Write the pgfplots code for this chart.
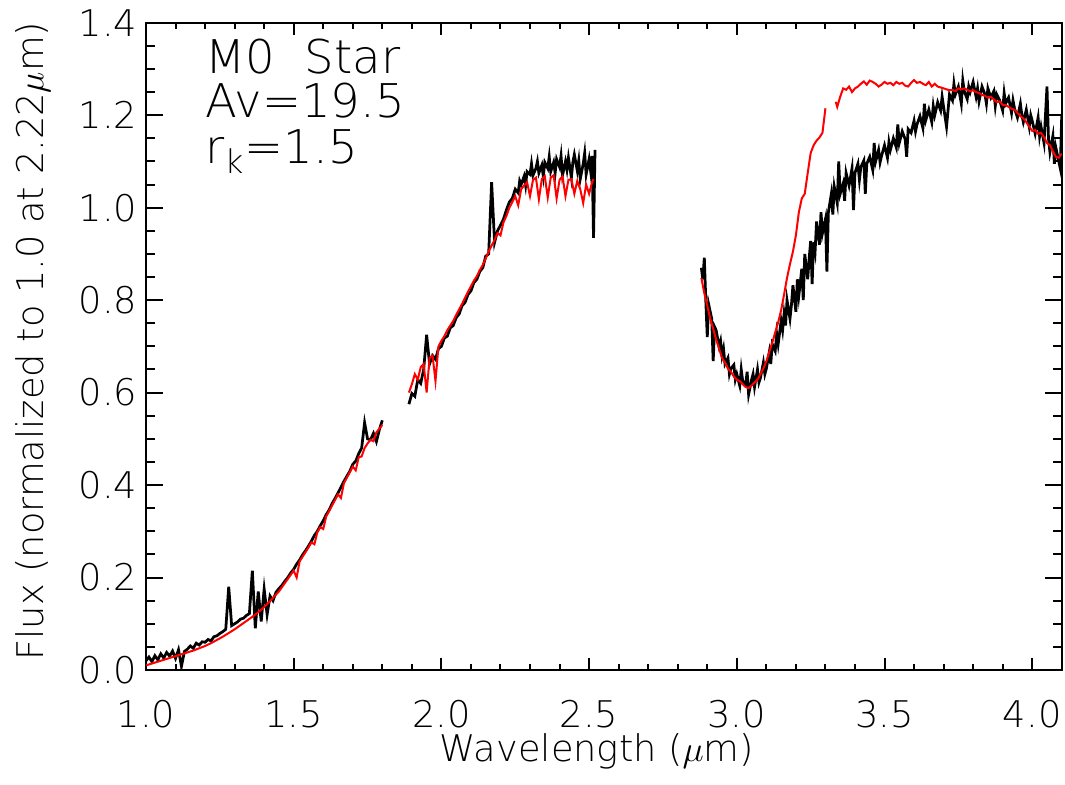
\documentclass[border=0pt]{standalone}
\usepackage{fontspec}
\setmainfont{DejaVu Sans}[UprightFont={* ExtraLight}]
\usepackage{pgfplots}
\pgfplotsset{compat=1.18}

% observed spectrum (black), three wavelength windows
\pgfplotstableread{
x y
1.00 0.020
1.01 0.028
1.02 0.018
1.03 0.031
1.04 0.022
1.05 0.035
1.06 0.026
1.07 0.038
1.08 0.030
1.09 0.041
1.10 0.025
1.11 0.044
1.12 0.008
1.13 0.040
1.14 0.045
1.15 0.052
1.16 0.047
1.17 0.058
1.18 0.054
1.19 0.061
1.20 0.060
1.21 0.066
1.22 0.063
1.23 0.072
1.24 0.074
1.25 0.079
1.26 0.083
1.27 0.088
1.28 0.180
1.29 0.096
1.30 0.100
1.31 0.104
1.32 0.110
1.33 0.112
1.34 0.118
1.35 0.122
1.36 0.215
1.37 0.090
1.38 0.170
1.39 0.105
1.40 0.175
1.41 0.120
1.42 0.160
1.43 0.150
1.44 0.168
1.45 0.176
1.46 0.183
1.47 0.192
1.48 0.200
1.49 0.210
1.50 0.218
1.51 0.229
1.52 0.238
1.53 0.249
1.54 0.258
1.55 0.268
1.56 0.279
1.57 0.291
1.58 0.300
1.59 0.312
1.60 0.323
1.61 0.336
1.62 0.346
1.63 0.360
1.64 0.371
1.65 0.383
1.66 0.395
1.67 0.408
1.68 0.419
1.69 0.430
1.70 0.445
1.71 0.452
1.72 0.468
1.73 0.480
1.74 0.535
1.75 0.500
1.76 0.498
1.77 0.512
1.78 0.494
1.79 0.520
1.80 0.540
}\obsA

\pgfplotstableread{
x y
1.89 0.575
1.90 0.598
1.91 0.592
1.92 0.628
1.93 0.620
1.94 0.650
1.95 0.725
1.96 0.662
1.97 0.680
1.98 0.672
1.99 0.695
2.00 0.700
2.01 0.718
2.02 0.722
2.03 0.740
2.04 0.745
2.05 0.762
2.06 0.770
2.07 0.788
2.08 0.795
2.09 0.812
2.10 0.820
2.11 0.838
2.12 0.845
2.13 0.862
2.14 0.870
2.15 0.895
2.16 0.900
2.17 1.055
2.18 0.925
2.19 0.950
2.20 0.962
2.21 0.975
2.22 0.995
2.23 1.012
2.24 1.020
2.25 1.040
2.26 1.032
2.265 1.058
2.27 1.050
2.28 1.068
2.285 1.048
2.29 1.078
2.30 1.072
2.305 1.095
2.31 1.070
2.32 1.085
2.325 1.100
2.33 1.075
2.34 1.092
2.345 1.068
2.35 1.098
2.36 1.085
2.365 1.110
2.37 1.078
2.38 1.098
2.385 1.075
2.39 1.105
2.40 1.088
2.405 1.112
2.41 1.070
2.42 1.100
2.425 1.082
2.43 1.108
2.44 1.065
2.445 1.098
2.45 1.115
2.46 1.080
2.465 1.102
2.47 1.062
2.48 1.095
2.485 1.118
2.49 1.072
2.50 1.105
2.505 1.080
2.51 1.112
2.515 0.935
2.52 1.125
}\obsB

\pgfplotstableread{
x y
2.88 0.870
2.885 0.845
2.89 0.892
2.895 0.800
2.90 0.720
2.905 0.790
2.91 0.775
2.915 0.760
2.92 0.668
2.925 0.742
2.93 0.735
2.94 0.700
2.945 0.712
2.95 0.680
2.955 0.695
2.96 0.662
2.97 0.675
2.975 0.640
2.98 0.652
2.99 0.660
2.995 0.628
3.00 0.640
3.01 0.615
3.015 0.650
3.02 0.625
3.03 0.618
3.035 0.645
3.04 0.596
3.05 0.628
3.055 0.640
3.06 0.612
3.07 0.650
3.075 0.622
3.08 0.632
3.09 0.665
3.095 0.640
3.10 0.652
3.11 0.688
3.115 0.662
3.12 0.705
3.13 0.690
3.135 0.728
3.14 0.705
3.15 0.755
3.155 0.735
3.16 0.770
3.165 0.745
3.17 0.800
3.18 0.760
3.185 0.790
3.19 0.832
3.20 0.775
3.205 0.845
3.21 0.810
3.22 0.868
3.225 0.800
3.23 0.900
3.24 0.845
3.245 0.890
3.25 0.928
3.255 0.835
3.26 0.925
3.265 0.905
3.27 0.970
3.28 0.920
3.285 0.990
3.29 0.945
3.30 0.975
3.305 0.862
3.31 0.990
3.32 1.030
3.325 0.985
3.33 1.045
3.34 1.010
3.345 1.100
3.35 1.030
3.36 1.052
3.365 1.015
3.37 1.075
3.38 1.048
3.39 1.085
3.395 0.995
3.40 1.075
3.41 1.095
3.415 1.060
3.42 1.088
3.43 1.102
3.435 1.030
3.44 1.095
3.45 1.110
3.46 1.082
3.465 1.140
3.47 1.100
3.48 1.125
3.485 1.098
3.49 1.112
3.50 1.135
3.51 1.108
3.515 1.142
3.52 1.125
3.53 1.150
3.54 1.130
3.545 1.180
3.55 1.140
3.56 1.165
3.57 1.148
3.575 1.110
3.58 1.170
3.59 1.162
3.60 1.188
3.605 1.165
3.61 1.180
3.62 1.198
3.63 1.172
3.635 1.225
3.64 1.190
3.65 1.212
3.66 1.185
3.665 1.220
3.67 1.200
3.68 1.228
3.69 1.210
3.695 1.240
3.70 1.218
3.71 1.175
3.72 1.245
3.73 1.232
3.735 1.268
3.74 1.245
3.75 1.262
3.76 1.225
3.765 1.275
3.77 1.252
3.78 1.235
3.785 1.262
3.79 1.250
3.80 1.272
3.81 1.240
3.815 1.258
3.82 1.230
3.83 1.262
3.84 1.245
3.845 1.225
3.85 1.258
3.86 1.238
3.87 1.252
3.875 1.220
3.88 1.245
3.89 1.232
3.90 1.210
3.905 1.248
3.91 1.225
3.92 1.238
3.93 1.205
3.935 1.232
3.94 1.215
3.95 1.195
3.96 1.225
3.965 1.200
3.97 1.185
3.98 1.212
3.99 1.175
3.995 1.200
4.00 1.188
4.01 1.160
4.02 1.195
4.025 1.155
4.03 1.175
4.04 1.140
4.05 1.262
4.055 1.150
4.06 1.120
4.07 1.155
4.075 1.095
4.08 1.130
4.09 1.100
4.095 1.085
4.10 1.200
}\obsC

% reddened M0 model (red)
\pgfplotstableread{
x y
1.00 0.010
1.02 0.014
1.04 0.018
1.06 0.022
1.08 0.026
1.10 0.030
1.12 0.034
1.14 0.038
1.16 0.042
1.18 0.047
1.20 0.052
1.22 0.058
1.24 0.065
1.26 0.072
1.28 0.080
1.30 0.088
1.32 0.097
1.34 0.106
1.36 0.115
1.38 0.125
1.40 0.136
1.42 0.149
1.44 0.163
1.45 0.170
1.46 0.179
1.47 0.188
1.48 0.197
1.49 0.206
1.50 0.215
1.51 0.200
1.52 0.235
1.53 0.245
1.54 0.255
1.55 0.265
1.56 0.276
1.57 0.272
1.58 0.298
1.59 0.309
1.60 0.305
1.61 0.332
1.62 0.344
1.63 0.356
1.64 0.368
1.65 0.380
1.66 0.372
1.67 0.404
1.68 0.416
1.69 0.428
1.70 0.440
1.71 0.432
1.72 0.460
1.73 0.462
1.74 0.480
1.75 0.490
1.76 0.498
1.77 0.495
1.78 0.514
1.79 0.522
1.80 0.530
}\modA

\pgfplotstableread{
x y
1.89 0.600
1.90 0.618
1.91 0.640
1.92 0.628
1.93 0.655
1.94 0.662
1.95 0.600
1.96 0.675
1.97 0.680
1.98 0.625
1.99 0.700
2.00 0.712
2.01 0.722
2.02 0.735
2.03 0.745
2.04 0.755
2.05 0.768
2.06 0.780
2.07 0.792
2.08 0.805
2.09 0.818
2.10 0.830
2.11 0.842
2.12 0.852
2.13 0.865
2.14 0.876
2.15 0.890
2.16 0.905
2.17 0.918
2.18 0.930
2.19 0.945
2.20 0.940
2.21 0.968
2.22 0.982
2.23 1.000
2.24 1.012
2.25 1.025
2.26 1.005
2.27 1.040
2.28 1.048
2.29 1.055
2.30 1.025
2.31 1.060
2.32 1.065
2.33 1.018
2.34 1.062
2.35 1.068
2.36 1.022
2.37 1.065
2.38 1.070
2.39 1.020
2.40 1.060
2.41 1.068
2.42 1.025
2.43 1.060
2.44 1.062
2.45 1.030
2.46 1.058
2.47 1.040
2.48 1.010
2.49 1.050
2.50 1.030
2.51 1.055
2.515 1.062
}\modB

\pgfplotstableread{
x y
2.88 0.848
2.89 0.815
2.90 0.788
2.91 0.760
2.92 0.738
2.93 0.715
2.94 0.695
2.95 0.675
2.96 0.665
2.97 0.652
2.98 0.645
2.99 0.635
3.00 0.628
3.01 0.625
3.02 0.618
3.03 0.612
3.04 0.610
3.05 0.615
3.06 0.622
3.07 0.628
3.08 0.640
3.09 0.652
3.10 0.668
3.11 0.688
3.12 0.708
3.13 0.730
3.14 0.752
3.15 0.778
3.16 0.812
3.17 0.848
3.18 0.878
3.19 0.905
3.20 0.940
3.21 0.990
3.22 1.020
3.23 1.030
3.24 1.075
3.25 1.118
3.26 1.135
3.27 1.145
3.28 1.152
3.29 1.162
3.30 1.215
}\modC

\pgfplotstableread{
x y
3.335 1.229
3.34 1.218
3.35 1.240
3.36 1.258
3.37 1.255
3.38 1.262
3.39 1.250
3.40 1.258
3.41 1.262
3.42 1.268
3.43 1.273
3.44 1.266
3.45 1.275
3.46 1.272
3.47 1.268
3.48 1.262
3.49 1.266
3.50 1.272
3.51 1.268
3.52 1.270
3.53 1.265
3.54 1.272
3.55 1.268
3.56 1.270
3.57 1.264
3.58 1.262
3.59 1.270
3.60 1.276
3.61 1.270
3.62 1.272
3.63 1.268
3.64 1.265
3.65 1.272
3.66 1.262
3.67 1.268
3.68 1.262
3.69 1.260
3.70 1.258
3.71 1.256
3.72 1.254
3.73 1.255
3.74 1.252
3.75 1.258
3.76 1.256
3.77 1.258
3.78 1.255
3.79 1.252
3.80 1.254
3.81 1.250
3.82 1.248
3.83 1.244
3.84 1.242
3.85 1.238
3.86 1.240
3.87 1.234
3.88 1.228
3.89 1.230
3.90 1.222
3.91 1.222
3.92 1.218
3.93 1.214
3.94 1.212
3.95 1.205
3.96 1.198
3.97 1.193
3.98 1.185
3.99 1.175
4.00 1.166
4.01 1.168
4.02 1.160
4.03 1.162
4.04 1.152
4.05 1.140
4.06 1.135
4.07 1.122
4.08 1.110
4.09 1.108
4.10 1.117
}\modD

% tick numbers pushed below the axis by a tall invisible strut
\newcommand\xtl[1]{\rule{0pt}{22.7pt}#1}

\begin{document}
\begin{tikzpicture}
\begin{axis}[
  scale only axis,
  width=366.3pt, height=258.9pt,
  xmin=1.0, xmax=4.1, ymin=0, ymax=1.4,
  xtick={1.0,1.5,2.0,2.5,3.0,3.5,4.0},
  xticklabels={\xtl{1.0},\xtl{1.5},\xtl{2.0},\xtl{2.5},\xtl{3.0},\xtl{3.5},\xtl{4.0}},
  ytick={0,0.2,0.4,0.6,0.8,1.0,1.2,1.4},
  minor x tick num=4,
  minor y tick num=3,
  tick align=inside,
  axis line style={line width=0.8pt},
  tick style={black, line width=0.8pt},
  xtick style={/pgfplots/major tick length=4.8pt, /pgfplots/minor tick length=2.4pt},
  ytick style={/pgfplots/major tick length=6.8pt, /pgfplots/minor tick length=3.6pt},
  /pgf/number format/assume math mode=true,
  yticklabel style={/pgf/number format/fixed, /pgf/number format/fixed zerofill,
    /pgf/number format/precision=1},
  xticklabel style={inner ysep=0pt},
  tick label style={font=\fontsize{14.7}{17}\selectfont},
  label style={font=\fontsize{14.7}{17}\selectfont},
  xlabel={Wavelength ($\mu$m)},
  ylabel={Flux (normalized to 1.0 at 2.22$\mu$m)},
  xlabel style={at={(axis description cs:0.4925,-0.0973)}, anchor=north, inner sep=0pt},
  ylabel style={at={(axis description cs:-0.1234,0.508)}, anchor=center},
  clip=true,
]
\addplot[black, line width=1.1pt] table {\obsA};
\addplot[black, line width=1.1pt] table {\obsB};
\addplot[black, line width=1.1pt] table {\obsC};
\addplot[red, line width=0.8pt] table {\modA};
\addplot[red, line width=0.8pt] table {\modB};
\addplot[red, line width=0.8pt] table {\modC};
\addplot[red, line width=0.8pt] table {\modD};

\node[anchor=base west, inner sep=0pt, font=\fontsize{18.6}{21}\selectfont] at (axis cs:1.2,1.291) {M0\ \ Star};
\node[anchor=base west, inner sep=0pt, font=\fontsize{18.6}{21}\selectfont] at (axis cs:1.2,1.194) {Av=19.5};
\node[anchor=base west, inner sep=0pt, font=\fontsize{18.6}{21}\selectfont] at (axis cs:1.2,1.096) {r\textsubscript{k}=1.5};
\end{axis}
\pgfresetboundingbox
\path (current axis.south west) ++(-58.4pt,-45.6pt) rectangle (current axis.north east);
\path (current axis.north east) ++(1.3pt,9.1pt);
\end{tikzpicture}
\end{document}
